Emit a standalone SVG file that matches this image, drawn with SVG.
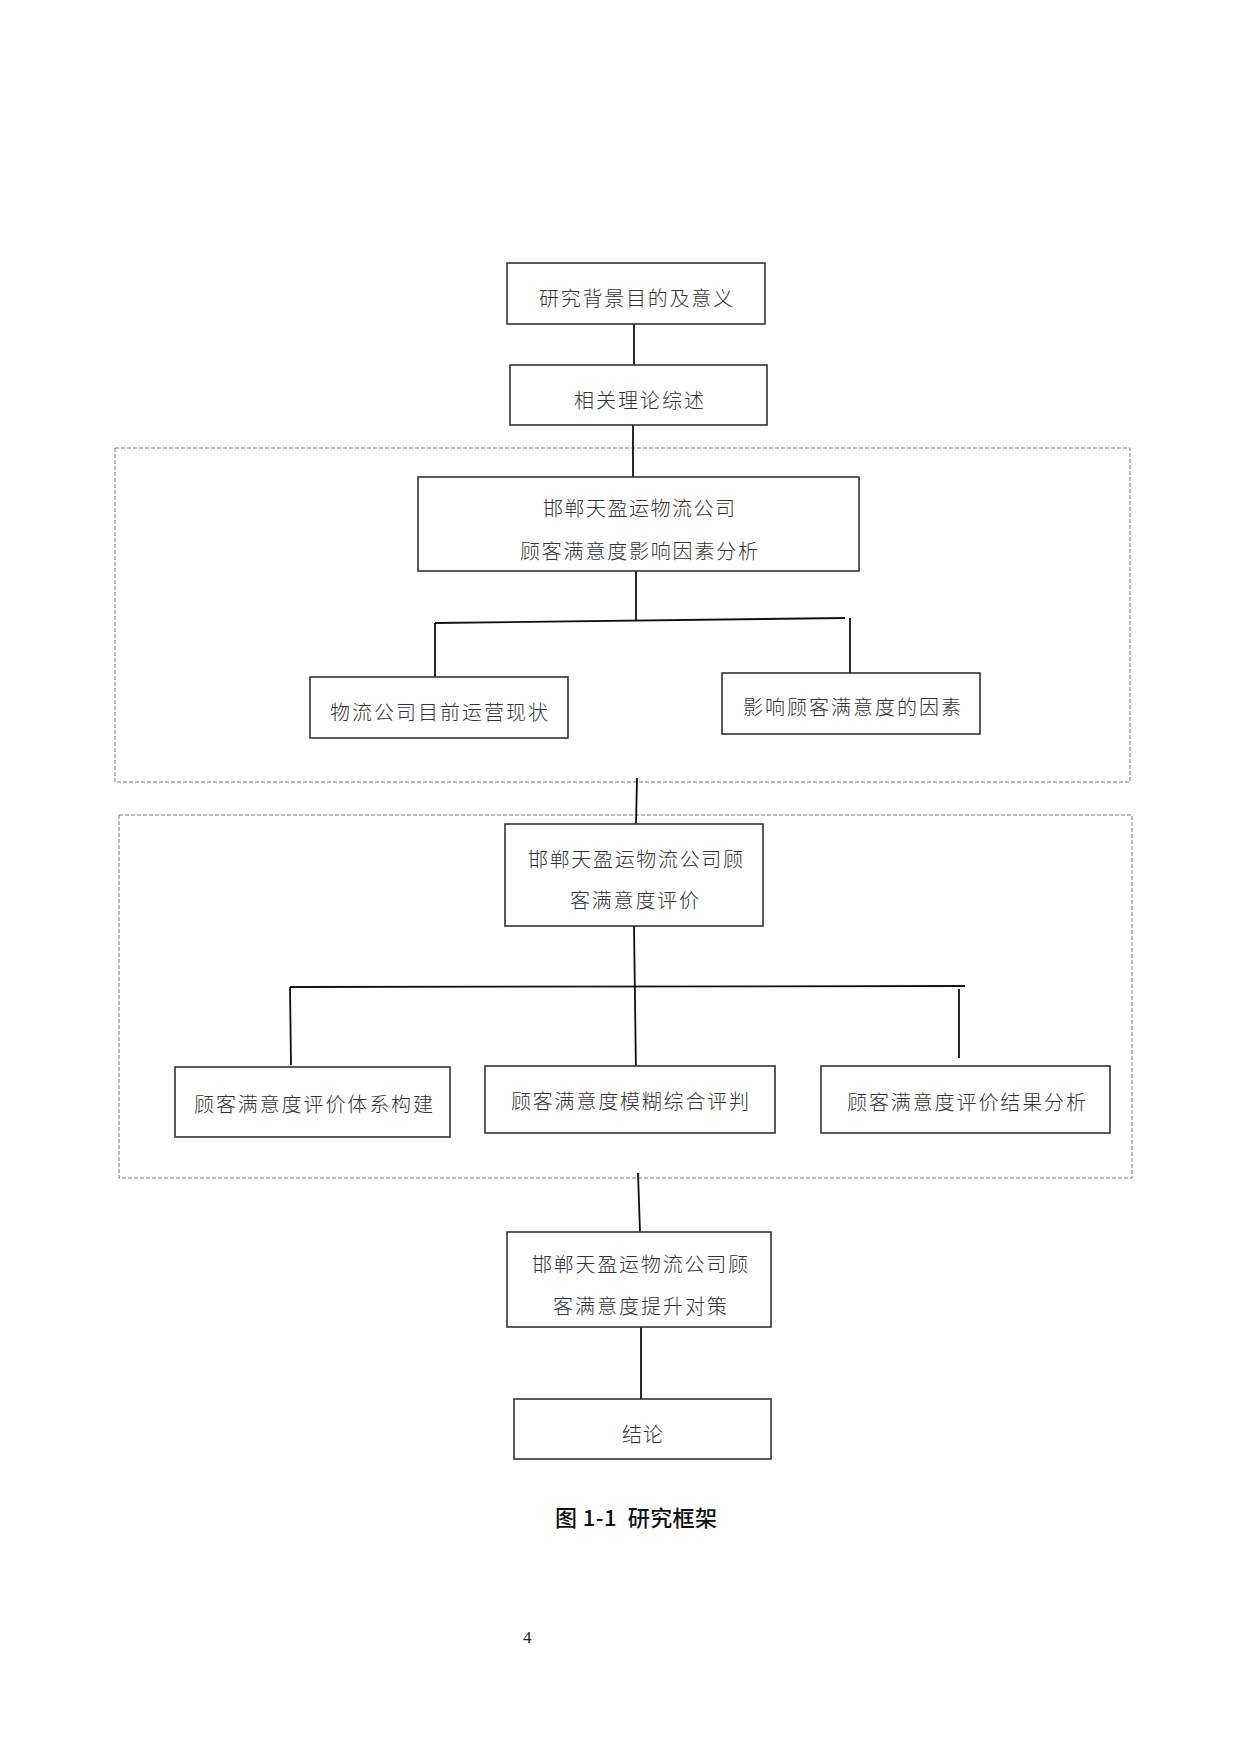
<svg xmlns="http://www.w3.org/2000/svg" width="1240" height="1754" viewBox="0 0 1240 1754">
<style>
.bg{fill:#fff}
.box{fill:#fff;stroke:#333;stroke-width:1.6}
.grp{fill:none;stroke:#777;stroke-width:1;stroke-dasharray:4 2}
.t{font-family:"Noto Sans CJK SC","Noto Sans CJK JP",sans-serif;font-size:20px;font-weight:300;fill:#333}
.ln{fill:none;stroke:#111;stroke-width:1.8}
.cap{font-family:"Noto Sans CJK SC",sans-serif;font-size:22px;font-weight:500;fill:#111}
.pg{font-family:"Liberation Serif",serif;font-size:17px;fill:#222}
</style>
<rect class="bg" x="0" y="0" width="1240" height="1754"/>
<g id="groups">
<rect id="group1" class="grp" x="115" y="448" width="1015" height="334"/>
<rect id="group2" class="grp" x="119" y="815" width="1013" height="363"/>
</g>
<g id="connectors">
<line class="ln" x1="634" y1="324" x2="634" y2="365"/>
<line class="ln" x1="633" y1="425" x2="633" y2="477"/>
<line class="ln" x1="636" y1="571" x2="636" y2="621"/>
<line class="ln" x1="435" y1="623" x2="845" y2="618"/>
<line class="ln" x1="435" y1="623" x2="435" y2="682"/>
<line class="ln" x1="850" y1="618" x2="850" y2="673"/>
<line class="ln" x1="637" y1="778" x2="636" y2="824"/>
<line class="ln" x1="634" y1="926" x2="636" y2="1073"/>
<line class="ln" x1="290" y1="987" x2="965" y2="986"/>
<line class="ln" x1="290" y1="987" x2="291" y2="1065"/>
<line class="ln" x1="959" y1="989" x2="959" y2="1058"/>
<line class="ln" x1="638" y1="1173" x2="640" y2="1232"/>
<line class="ln" x1="641" y1="1327" x2="641" y2="1399"/>
</g>
<g id="n1">
<rect class="box" x="507" y="263" width="258" height="61"/>
<text class="t" x="539" y="306" textLength="194" lengthAdjust="spacing">研究背景目的及意义</text>
</g>
<g id="n2">
<rect class="box" x="510" y="365" width="257" height="60"/>
<text class="t" x="574" y="408" textLength="130" lengthAdjust="spacing">相关理论综述</text>
</g>
<g id="n3">
<rect class="box" x="418" y="477" width="441" height="94"/>
<text class="t" x="543" y="516" textLength="192" lengthAdjust="spacing">邯郸天盈运物流公司</text>
<text class="t" x="520" y="559" textLength="238" lengthAdjust="spacing">顾客满意度影响因素分析</text>
</g>
<g id="n4">
<rect class="box" x="310" y="677" width="258" height="61"/>
<text class="t" x="330" y="720" textLength="218" lengthAdjust="spacing">物流公司目前运营现状</text>
</g>
<g id="n5">
<rect class="box" x="722" y="673" width="258" height="61"/>
<text class="t" x="743" y="715" textLength="218" lengthAdjust="spacing">影响顾客满意度的因素</text>
</g>
<g id="n6">
<rect class="box" x="505" y="824" width="258" height="102"/>
<text class="t" x="528" y="867" textLength="215" lengthAdjust="spacing">邯郸天盈运物流公司顾</text>
<text class="t" x="570" y="908" textLength="129" lengthAdjust="spacing">客满意度评价</text>
</g>
<g id="n7">
<rect class="box" x="175" y="1067" width="275" height="70"/>
<text class="t" x="194" y="1112" textLength="239" lengthAdjust="spacing">顾客满意度评价体系构建</text>
</g>
<g id="n8">
<rect class="box" x="485" y="1066" width="290" height="67"/>
<text class="t" x="511" y="1109" textLength="238" lengthAdjust="spacing">顾客满意度模糊综合评判</text>
</g>
<g id="n9">
<rect class="box" x="821" y="1066" width="289" height="67"/>
<text class="t" x="847" y="1110" textLength="239" lengthAdjust="spacing">顾客满意度评价结果分析</text>
</g>
<g id="n10">
<rect class="box" x="507" y="1232" width="264" height="95"/>
<text class="t" x="532" y="1272" textLength="216" lengthAdjust="spacing">邯郸天盈运物流公司顾</text>
<text class="t" x="553" y="1314" textLength="174" lengthAdjust="spacing">客满意度提升对策</text>
</g>
<g id="n11">
<rect class="box" x="514" y="1399" width="257" height="60"/>
<text class="t" x="622" y="1442" textLength="41" lengthAdjust="spacing">结论</text>
</g>
<text class="cap" x="555" y="1526" textLength="162" lengthAdjust="spacing" xml:space="preserve">图 1-1  研究框架</text>
<text class="pg" x="523" y="1643">4</text>
</svg>
